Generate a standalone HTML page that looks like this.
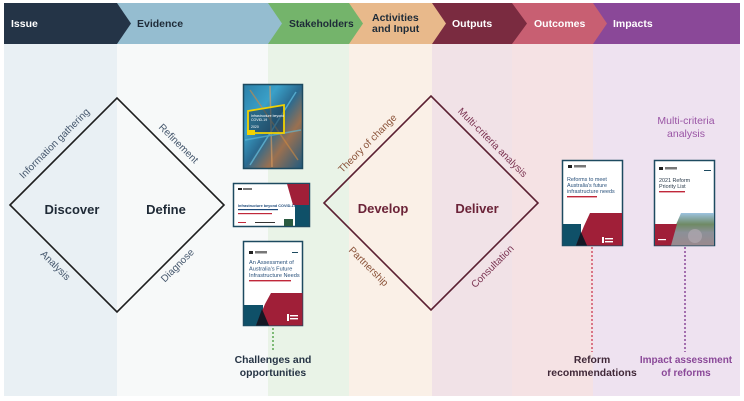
<!DOCTYPE html>
<html><head><meta charset="utf-8"><style>
html,body{margin:0;padding:0;background:#fff;}
svg{display:block;font-family:"Liberation Sans",Arial,sans-serif;}
</style></head><body>
<svg width="744" height="401" viewBox="0 0 744 401" xmlns="http://www.w3.org/2000/svg">
<defs>
<linearGradient id="city" x1="0" y1="0" x2="1" y2="1">
<stop offset="0" stop-color="#2b7fa8"/>
<stop offset="0.3" stop-color="#3aa0c8"/>
<stop offset="0.5" stop-color="#2a6a90"/>
<stop offset="0.7" stop-color="#9a7050"/>
<stop offset="1" stop-color="#1f5a80"/>
</linearGradient>
<linearGradient id="photo" x1="0" y1="0" x2="0" y2="1">
<stop offset="0" stop-color="#9cc3df"/>
<stop offset="0.35" stop-color="#6f8a64"/>
<stop offset="0.6" stop-color="#8c9098"/>
<stop offset="1" stop-color="#9a8a8e"/>
</linearGradient>
</defs>
<rect width="744" height="401" fill="#fff"/>
<!-- column backgrounds -->
<rect x="4" y="44" width="113" height="352" fill="#e9f0f4"/>
<rect x="117" y="44" width="151" height="352" fill="#f7f9f9"/>
<rect x="268" y="44" width="81" height="352" fill="#e9f3e7"/>
<rect x="349" y="44" width="83" height="352" fill="#faf0e7"/>
<rect x="432" y="44" width="80" height="352" fill="#f1e2e7"/>
<rect x="512" y="44" width="81" height="352" fill="#f5e2e4"/>
<rect x="593" y="44" width="147" height="352" fill="#eee2f0"/>

<!-- header chevrons -->
<path d="M593,3 H740 V44 H593Z" fill="#8a4898"/>
<path d="M512,3 H593 L607,23.5 L593,44 H512Z" fill="#c85f72"/>
<path d="M432,3 H512 L527,23.5 L512,44 H432Z" fill="#7a2b40"/>
<path d="M349,3 H432 L446,23.5 L432,44 H349Z" fill="#e8b98b"/>
<path d="M268,3 H349 L363,23.5 L349,44 H268Z" fill="#74b46b"/>
<path d="M117,3 H268 L282,23.5 L268,44 H117Z" fill="#95bdd0"/>
<path d="M4,3 H117 L131,23.5 L117,44 H4Z" fill="#243447"/>

<g font-size="10.5" font-weight="bold">
<text x="11" y="27" fill="#ffffff">Issue</text>
<text x="137" y="27" fill="#1e2b38">Evidence</text>
<text x="289" y="27" fill="#1e2b38" font-size="10.3">Stakeholders</text>
<text x="372" y="21" fill="#1e2b38">Activities</text>
<text x="372" y="32" fill="#1e2b38">and Input</text>
<text x="452" y="27" fill="#ffffff">Outputs</text>
<text x="534" y="27" fill="#ffffff">Outcomes</text>
<text x="613" y="27" fill="#ffffff">Impacts</text>
</g>

<!-- diamond 1 -->
<polygon points="10,205 117,98 224,205 117,312" fill="none" stroke="#1e1e1e" stroke-width="1.6"/>
<g font-size="10" fill="#44566c" text-anchor="middle" dominant-baseline="central">
<text transform="translate(55,144) rotate(-45)">Information gathering</text>
<text transform="translate(178,144) rotate(45)">Refinement</text>
<text transform="translate(55,266) rotate(45)">Analysis</text>
<text transform="translate(178,266) rotate(-45)">Diagnose</text>
</g>
<g font-size="13" font-weight="bold" fill="#1f2a36" text-anchor="middle">
<text x="72" y="214">Discover</text>
<text x="166" y="214">Define</text>
</g>

<!-- diamond 2 -->
<polygon points="324,203 431,96 538,203 431,310" fill="none" stroke="#5b2032" stroke-width="1.6"/>
<g font-size="10" text-anchor="middle" dominant-baseline="central">
<text transform="translate(368,144) rotate(-45)" fill="#8a5238">Theory of change</text>
<text transform="translate(492,143) rotate(45)" fill="#7b3452">Multi-criteria analysis</text>
<text transform="translate(368,267) rotate(45)" fill="#8a5238">Partnership</text>
<text transform="translate(493,267) rotate(-45)" fill="#7b3452">Consultation</text>
</g>
<g font-size="13" font-weight="bold" fill="#6b2338" text-anchor="middle">
<text x="383" y="213">Develop</text>
<text x="477" y="213">Deliver</text>
</g>

<!-- Book 1 -->
<rect x="243.5" y="84.5" width="59" height="84" fill="url(#city)" stroke="#1d4a60" stroke-width="1.5"/>
<g stroke-width="1.5" opacity="0.6">
<line x1="250" y1="90" x2="298" y2="160" stroke="#d08a40"/>
<line x1="296" y1="92" x2="250" y2="165" stroke="#6fd0f0"/>
<line x1="270" y1="86" x2="272" y2="167" stroke="#e0a060"/>
<line x1="245" y1="140" x2="301" y2="130" stroke="#60c0e0"/>
</g>
<polygon points="248,111 284,105 284,133 248,133" fill="#1d3a50" fill-opacity="0.55" stroke="#f2d200" stroke-width="1.8"/>
<rect x="247" y="130" width="8" height="5" fill="#f2d200"/>
<g fill="#ffffff" font-size="3.5">
<text x="251" y="117">Infrastructure beyond</text>
<text x="251" y="121">COVID-19</text>
<text x="251" y="128">2020</text>
</g>

<!-- Book 2 -->
<rect x="233.5" y="183.5" width="76" height="43" fill="#ffffff" stroke="#1d4a60" stroke-width="1.5"/>
<polygon points="287,184 309,184 309,205 293,205" fill="#a01f38"/>
<polygon points="295,205 309,205 309,226 295,226" fill="#0f5068"/>
<rect x="284" y="219" width="9" height="7" fill="#2a5a40"/>
<rect x="238" y="188" width="4" height="2" fill="#222"/>
<rect x="243" y="188" width="9" height="2" fill="#777"/>
<text x="238" y="207" font-size="3.8" font-weight="bold" fill="#1d4a7a">Infrastructure beyond COVID-19</text>
<rect x="238" y="209" width="40" height="1.2" fill="#1d4a7a"/>
<rect x="238" y="213" width="34" height="1.2" fill="#c0283a"/>
<rect x="238" y="222" width="8" height="1" fill="#c0283a"/>
<rect x="255" y="222" width="20" height="1" fill="#333"/>

<!-- Book 3 -->
<rect x="243.5" y="241.5" width="59" height="84" fill="#ffffff" stroke="#1d4a60" stroke-width="1.5"/>
<rect x="249" y="251" width="4" height="3" fill="#222"/>
<rect x="255" y="251" width="12" height="2.5" fill="#777"/>
<rect x="292" y="252" width="6" height="1" fill="#1d4a60"/>
<g font-size="5.6" fill="#28507a">
<text x="249" y="264">An Assessment of</text>
<text x="249" y="270.5">Australia's Future</text>
<text x="249" y="277">Infrastructure Needs</text>
</g>
<rect x="249" y="280" width="42" height="1.4" fill="#c0283a"/>
<rect x="244" y="305" width="19" height="20.5" fill="#0f5068"/>
<polygon points="271,293 302.5,293 302.5,325.5 256,325.5 265,304" fill="#a01f38"/>
<polygon points="256,325.5 262,309 269,325.5" fill="#141824"/>
<rect x="287" y="314" width="2" height="7" fill="#fff"/>
<rect x="290" y="315" width="8" height="1.4" fill="#fff"/>
<rect x="290" y="318" width="8" height="1.4" fill="#fff"/>

<!-- Book 4 -->
<rect x="562.5" y="160.5" width="60" height="85" fill="#ffffff" stroke="#1d4a60" stroke-width="1.5"/>
<rect x="568" y="165" width="4" height="3" fill="#222"/>
<rect x="574" y="165" width="12" height="2.5" fill="#777"/>
<g font-size="5.4" fill="#28507a">
<text x="567" y="181">Reforms to meet</text>
<text x="567" y="187">Australia's future</text>
<text x="567" y="193">infrastructure needs</text>
</g>
<rect x="567" y="196" width="30" height="1.4" fill="#c0283a"/>
<rect x="563" y="224" width="18" height="21.5" fill="#0f5068"/>
<polygon points="590,213 622,213 622,245.5 576,245.5 584,226" fill="#a01f38"/>
<polygon points="576,245.5 581,232 587,245.5" fill="#141824"/>
<rect x="602" y="237" width="2" height="6" fill="#fff"/>
<rect x="605" y="238" width="8" height="1.4" fill="#fff"/>
<rect x="605" y="241" width="8" height="1.4" fill="#fff"/>

<!-- Book 5 -->
<rect x="654.5" y="160.5" width="60" height="85" fill="#ffffff" stroke="#1d4a60" stroke-width="1.5"/>
<rect x="659" y="167" width="4" height="3" fill="#222"/>
<rect x="665" y="167" width="12" height="2.5" fill="#777"/>
<rect x="704" y="170" width="7" height="1" fill="#1d4a60"/>
<g font-size="5.4" fill="#2a3a4a">
<text x="659" y="182">2021 Reform</text>
<text x="659" y="188">Priority List</text>
</g>
<rect x="659" y="191" width="26" height="1.4" fill="#c0283a"/>
<polygon points="681,213 714,213 714,245.5 667,245.5" fill="url(#photo)"/>
<circle cx="695" cy="236" r="7" fill="#b0a8b0" opacity="0.7"/>
<polygon points="655,224 677,224 671,245.5 655,245.5" fill="#a01f38"/>
<rect x="658" y="239" width="8" height="1.2" fill="#fff"/>

<!-- dotted connectors -->
<line x1="273" y1="328" x2="273" y2="352" stroke="#5aa850" stroke-width="1.5" stroke-dasharray="2,2"/>
<line x1="592" y1="247" x2="592" y2="352" stroke="#d0506a" stroke-width="1.5" stroke-dasharray="2,2"/>
<line x1="685" y1="247" x2="685" y2="352" stroke="#8a4898" stroke-width="1.5" stroke-dasharray="2,2"/>

<!-- bottom labels -->
<g font-size="10.4" font-weight="bold" text-anchor="middle">
<text x="273" y="363" fill="#263445">Challenges and</text>
<text x="273" y="376" fill="#263445">opportunities</text>
<text x="592" y="363" fill="#402838">Reform</text>
<text x="592" y="376" fill="#402838">recommendations</text>
<text x="686" y="363" fill="#8a4898" font-size="10">Impact assessment</text>
<text x="686" y="376" fill="#8a4898" font-size="10">of reforms</text>
</g>
<g font-size="10.5" text-anchor="middle" fill="#9a55a5">
<text x="686" y="124">Multi-criteria</text>
<text x="686" y="137">analysis</text>
</g>
</svg>
</body></html>
